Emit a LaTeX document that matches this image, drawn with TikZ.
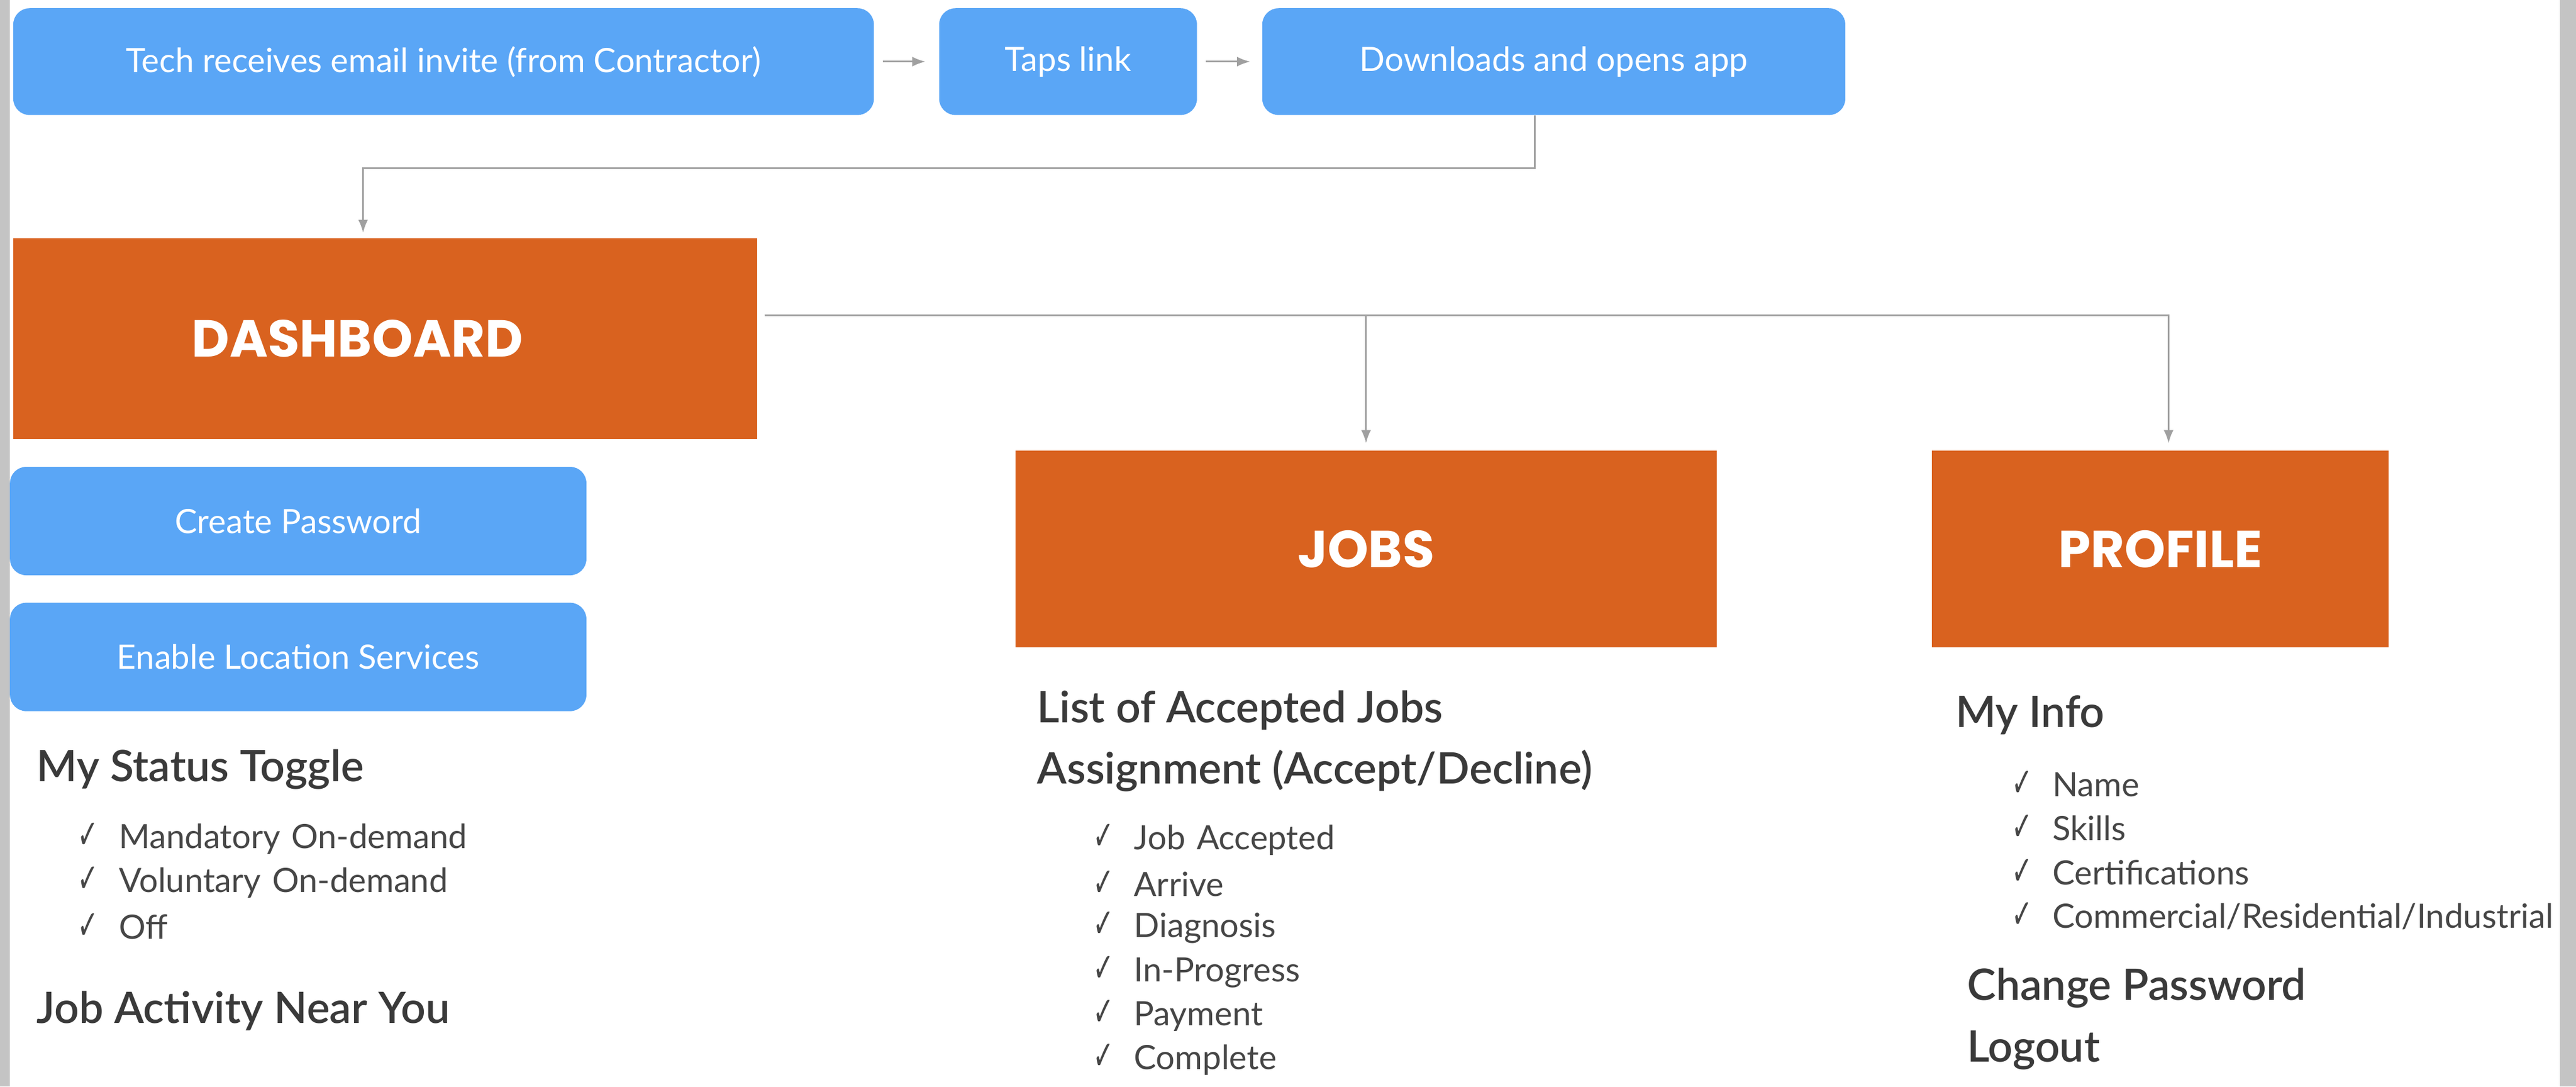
\documentclass[tikz,border=0pt]{standalone}
\usepackage{fontspec}
\setmainfont{Lato}
\newfontfamily\titlefont{Poppins}
\newfontfamily\headfont{Lato Semibold}
\newfontfamily\checkfont{DejaVu Sans}
\usetikzlibrary{positioning, arrows.meta}

\definecolor{stepblue}{RGB}{90,166,246}
\definecolor{screenorange}{RGB}{217,98,31}
\definecolor{linkgray}{RGB}{160,160,160}
\definecolor{listgray}{RGB}{70,70,70}
\definecolor{headgray}{RGB}{58,58,58}
\definecolor{edgegray}{RGB}{196,196,196}

\newcommand{\chk}{\makebox[0.5cm][l]{\scalebox{0.62}[1]{\checkfont\fontsize{14}{14}\selectfont ✓}}}

\tikzset{
  stepbox/.style={rectangle, rounded corners=0.2cm, fill=stepblue, text=white, minimum height=1.3cm, font=\fontsize{11.6}{13}\selectfont},
  screen/.style={rectangle, fill=screenorange, text=white, minimum height=2.4cm, font=\titlefont\bfseries\fontsize{18}{20}\selectfont},
  head/.style={anchor=west, inner sep=0pt, text=headgray, font=\headfont\fontsize{15}{17}\selectfont},
  item/.style={inner sep=0pt, text width=7.5cm, align=left, text=listgray, font=\fontsize{11.6}{14}\selectfont},
  link/.style={draw=linkgray, line width=0.6pt, -{Latex[length=1.6mm,width=1.2mm]}},
}

\begin{document}
\begin{tikzpicture}[x=0.02cm, y=-0.02cm, node distance=0.535cm]

 % page
 \fill[white] (0,0) rectangle (1568,661);
 \fill[edgegray] (0,0) rectangle (6,661);
 \fill[edgegray] (1558,0) rectangle (1568,661);
 \useasboundingbox (0,0) rectangle (1568,661);

 %%%  nodes

 % onboarding steps
 \node[stepbox, minimum width=10.48cm] (invite) at (270,37.5) {Tech receives email invite (from Contractor)};
 \node[stepbox, minimum width=3.14cm, right=0.78cm of invite] (taps) {Taps link};
 \node[stepbox, minimum width=7.1cm, right=0.78cm of taps] (download) {Downloads and opens app};

 % screens
 \node[screen, minimum width=9.06cm, minimum height=2.44cm] (dashboard) at (234.5,206) {DASHBOARD\hspace*{0.68cm}};
 \node[screen, minimum width=8.54cm] (jobs) at (831.5,334) {JOBS};
 \node[screen, minimum width=5.56cm] (profile) at (1315,334) {PROFILE};

 % dashboard setup
 \node[stepbox, minimum width=7.02cm, minimum height=1.32cm] (password) at (181.5,317) {Create Password};
 \node[stepbox, minimum width=7.02cm, minimum height=1.32cm, below=0.32cm of password] (location) {Enable Location Services};

 % dashboard list
 \node[head] (status) at (22,468) {My Status Toggle};
 \node[item, anchor=west] (st1) at (47,510) {\chk Mandatory On-demand};
 \node[item, below of=st1] (st2) {\chk Voluntary On-demand};
 \node[item, below of=st2] (st3) {\chk Off};
 \node[head] (nearby) at (22,615) {Job Activity Near You};

 % jobs list
 \node[head] (accepted) at (631,432) {List of Accepted Jobs};
 \node[head] (assign) at (631,469) {Assignment (Accept/Decline)};
 \node[item, anchor=west] (js1) at (665,511) {\chk Job Accepted};
 \node[item, below of=js1] (js2) {\chk Arrive};
 \node[item, below of=js2] (js3) {\chk Diagnosis};
 \node[item, below of=js3] (js4) {\chk In-Progress};
 \node[item, below of=js4] (js5) {\chk Payment};
 \node[item, below of=js5] (js6) {\chk Complete};

 % profile list
 \node[head] (info) at (1190,435) {My Info};
 \node[item, anchor=west] (pi1) at (1224,477) {\chk Name};
 \node[item, below of=pi1] (pi2) {\chk Skills};
 \node[item, below of=pi2] (pi3) {\chk Certifications};
 \node[item, below of=pi3] (pi4) {\chk Commercial/Residential/Industrial};
 \node[head] (change) at (1197,601) {Change Password};
 \node[head] (logout) at (1197,639) {Logout};

 %%%  connectors

 \draw[link, shorten <=0.1cm, shorten >=0.16cm] (invite) -- (taps);
 \draw[link, shorten <=0.1cm, shorten >=0.14cm] (taps) -- (download);
 \draw[link, shorten >=0.06cm] ([xshift=-0.23cm]download.south) -- ++(0,-0.64cm) -| ([xshift=-0.27cm]dashboard.north);
 \draw[link, shorten <=0.08cm, shorten >=0.08cm] ([yshift=0.28cm]dashboard.east) -| (jobs.north);
 \draw[link, shorten <=0.08cm, shorten >=0.08cm] ([yshift=0.28cm]dashboard.east) -| ([xshift=0.1cm]profile.north);

\end{tikzpicture}
\end{document}
